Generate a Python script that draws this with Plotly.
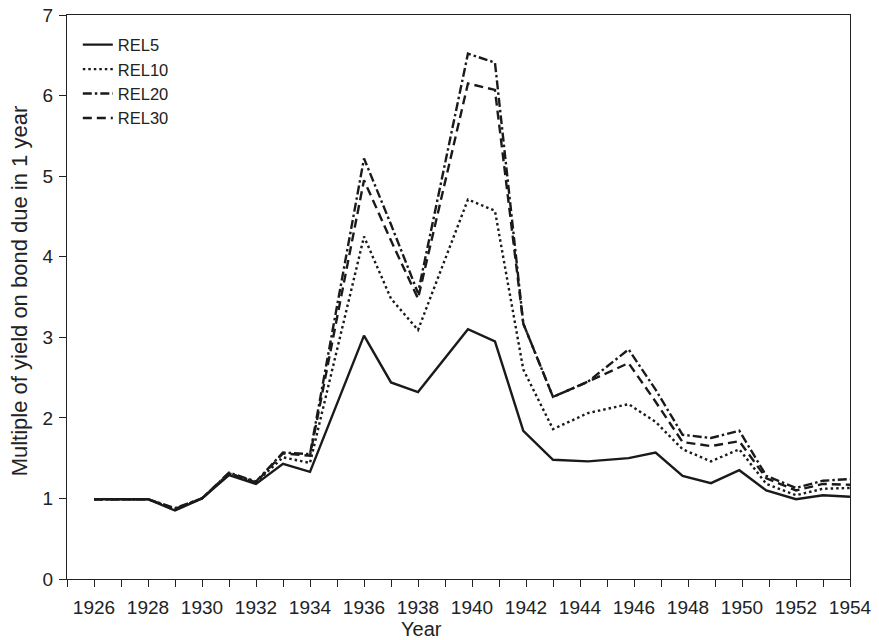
import plotly.graph_objects as go

years = [1926, 1927, 1928, 1929, 1930, 1931, 1932, 1933, 1934, 1936, 1937, 1938,
         1939.85, 1940.85, 1941.9, 1943, 1944.3, 1945.8, 1946.8, 1947.8, 1948.85,
         1949.9, 1950.9, 1952, 1953, 1954]

rel5 = [0.99, 0.99, 0.99, 0.85, 1.0, 1.29, 1.18, 1.43, 1.33, 3.02, 2.44, 2.32,
        3.10, 2.95, 1.84, 1.48, 1.46, 1.50, 1.57, 1.28, 1.19, 1.35, 1.10, 0.99, 1.04, 1.02]
rel10 = [0.99, 0.99, 0.99, 0.87, 1.0, 1.31, 1.20, 1.51, 1.44, 4.25, 3.48, 3.09,
         4.71, 4.57, 2.60, 1.86, 2.06, 2.17, 1.95, 1.61, 1.46, 1.61, 1.18, 1.04, 1.12, 1.13]
rel20 = [0.99, 0.99, 0.99, 0.88, 1.0, 1.32, 1.21, 1.57, 1.55, 5.22, 4.40, 3.55,
         6.52, 6.41, 3.17, 2.26, 2.45, 2.85, 2.35, 1.79, 1.75, 1.84, 1.28, 1.13, 1.22, 1.24]
rel30 = [0.99, 0.99, 0.99, 0.87, 1.0, 1.31, 1.20, 1.56, 1.53, 4.95, 4.20, 3.48,
         6.15, 6.07, 3.17, 2.26, 2.45, 2.68, 2.20, 1.70, 1.65, 1.71, 1.25, 1.10, 1.18, 1.17]

series_names = ["REL5", "REL10", "REL20", "REL30"]
series_values = [rel5, rel10, rel20, rel30]
dashes = ["solid", "2.5px,3px", "9px,3px,2.5px,3px", "9px,5px"]

tick_years = list(range(1925, 1955))
tick_labels = [str(y) if y % 2 == 0 and y >= 1926 else "" for y in tick_years]
y_ticks = [0, 1, 2, 3, 4, 5, 6, 7]

FONT = "Liberation Sans, Arial, Helvetica, sans-serif"
INK = "#1a1a1a"

fig = go.Figure()
for name, vals, d in zip(series_names, series_values, dashes):
    fig.add_trace(go.Scatter(
        x=years, y=vals, mode="lines", name=name,
        line=dict(color=INK, width=2.4, dash=d),
    ))

fig.update_layout(
    width=879, height=640,
    margin=dict(l=67, r=29, t=15, b=61, autoexpand=False),
    paper_bgcolor="white", plot_bgcolor="white",
    font=dict(family=FONT, size=19, color="#222"),
    showlegend=True,
    legend=dict(x=0.0138, y=0.978, xanchor="left", yanchor="top",
                bgcolor="rgba(0,0,0,0)", font=dict(size=16.5),
                tracegroupgap=0, itemwidth=30),
    xaxis=dict(
        range=[1925, 1954], tickmode="array", tickvals=tick_years, ticktext=tick_labels,
        ticks="outside", ticklen=7, tickwidth=1.2, tickcolor="#222",
        tickfont=dict(size=19), ticklabelstandoff=4, ticklabeloverflow="allow",
        automargin=False,
        showline=True, linecolor="#222", linewidth=1.2, mirror=True,
        showgrid=False, zeroline=False,
    ),
    yaxis=dict(
        range=[0, 7], tickmode="array", tickvals=y_ticks,
        ticks="outside", ticklen=7, tickwidth=1.2, tickcolor="#222",
        tickfont=dict(size=19), ticklabelstandoff=2, ticklabeloverflow="allow",
        automargin=False,
        showline=True, linecolor="#222", linewidth=1.2, mirror=True,
        showgrid=False, zeroline=False,
    ),
    annotations=[
        dict(text="Year", xref="paper", yref="paper", x=(421 - 67) / 783, y=0,
             xanchor="center", yanchor="middle", yshift=-50, showarrow=False,
             font=dict(size=20, family=FONT, color="#222")),
        dict(text="Multiple of yield on bond due in 1 year", xref="paper", yref="paper",
             x=0, y=0.51, xanchor="center", yanchor="middle", xshift=-48,
             textangle=-90, showarrow=False,
             font=dict(size=22, family=FONT, color="#222")),
    ],
)

fig.write_html("out.html",
               config={"displayModeBar": False},
               post_script="document.body.style.margin='0px';document.body.style.padding='0px';")
